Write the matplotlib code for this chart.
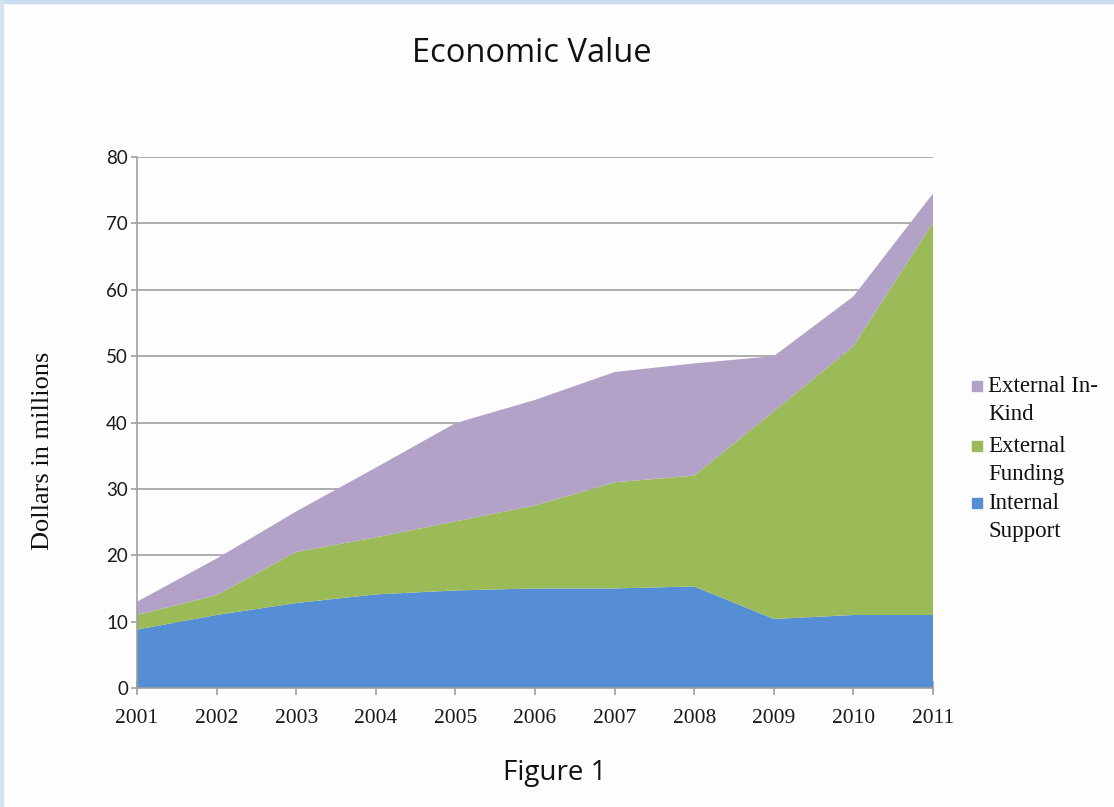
import matplotlib
matplotlib.use("Agg")
import matplotlib.pyplot as plt
from matplotlib.patches import Rectangle

years = [2001, 2002, 2003, 2004, 2005, 2006, 2007, 2008, 2009, 2010, 2011]
internal_support = [8.8, 11.0, 12.8, 14.1, 14.7, 15.0, 15.0, 15.3, 10.4, 11.0, 11.0]
external_funding = [2.2, 3.0, 7.7, 8.6, 10.4, 12.5, 16.0, 16.7, 31.3, 40.5, 59.1]
external_inkind = [2.0, 5.5, 6.1, 10.5, 14.8, 15.9, 16.6, 16.9, 8.3, 7.5, 4.4]
series_labels = ["Internal\nSupport", "External\nFunding", "External In-\nKind"]
colors = ["#558ED5", "#9BBB59", "#B3A2C7"]
yticks = [0, 10, 20, 30, 40, 50, 60, 70, 80]

W, H = 1114, 807
fig = plt.figure(figsize=(W / 100, H / 100), dpi=100)
fig.patch.set_facecolor("#FDFDFD")
# light blue screenshot frame
fig.patches.append(Rectangle((0, 0.996), 1, 0.004, transform=fig.transFigure,
                             color="#C9DCF0", zorder=0))
fig.patches.append(Rectangle((0, 0), 0.003, 1, transform=fig.transFigure,
                             color="#D3E3F4", zorder=0))

ax = fig.add_axes([137 / W, 1 - 688 / H, (933 - 137) / W, (688 - 157) / H])
ax.set_facecolor("#FDFDFD")
ax.stackplot(years, internal_support, external_funding, external_inkind,
             colors=colors, linewidth=0, zorder=2)
ax.set_xlim(2001, 2011)
ax.set_ylim(0, 80)
ax.set_yticks(yticks)
ax.set_xticks(years)
ax.grid(axis="y", color="#A0A0A0", linewidth=1.2, zorder=1)
ax.set_axisbelow(True)
for s in ["top", "right"]:
    ax.spines[s].set_visible(False)
for s in ["left", "bottom"]:
    ax.spines[s].set_color("#A0A0A0")
    ax.spines[s].set_linewidth(1.2)
    ax.spines[s].set_zorder(3)
ax.tick_params(axis="y", color="#A0A0A0", length=4, width=1.2, pad=2.5)
ax.tick_params(axis="x", color="#A0A0A0", direction="inout", length=10, width=1.2, pad=10)
for lab in ax.get_xticklabels():
    lab.set_fontfamily("Liberation Serif")
    lab.set_fontsize(15.5)
    lab.set_color("#1A1A1A")
for lab in ax.get_yticklabels():
    lab.set_fontfamily("Lato")
    lab.set_fontsize(13.5)
    lab.set_color("#1A1A1A")

fig.text(43 / W, 1 - 451 / H, "Dollars in millions", rotation=90, ha="center",
         va="center", fontfamily="Liberation Serif", fontsize=19, color="#111111")

fig.text(531.5 / W, 1 - 54 / H, "Economic Value", ha="center", va="center",
         fontfamily="Open Sans", fontsize=23.5, color="#111111")
fig.text(555 / W, 1 - 773 / H, "Figure 1", ha="center", va="center",
         fontfamily="Open Sans", fontsize=20, color="#111111")

# legend (top to bottom: In-Kind, Funding, Internal)
leg_first_line_y = [386, 446, 503]
for idx, ly in zip([2, 1, 0], leg_first_line_y):
    fig.patches.append(Rectangle((972 / W, 1 - (ly + 5) / H), 10 / W, 10 / H,
                                 transform=fig.transFigure, color=colors[idx], zorder=3))
    fig.text(988 / W, 1 - (ly - 10) / H, series_labels[idx], ha="left", va="top",
             fontfamily="Liberation Serif", fontsize=16.5, color="#111111",
             linespacing=1.45)

fig.savefig("out.png", dpi=100, facecolor=fig.get_facecolor())
